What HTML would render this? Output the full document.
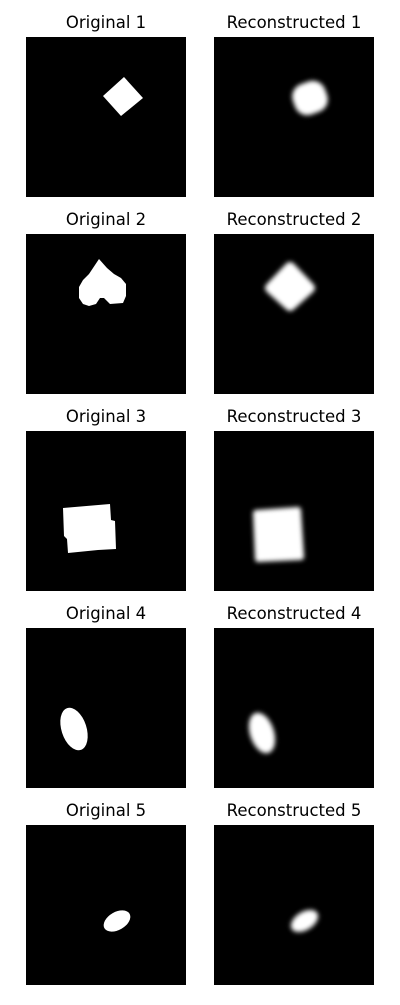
<!DOCTYPE html>
<html><head><meta charset="utf-8"><style>
body{margin:0;background:#fff;width:400px;height:1000px;overflow:hidden}
text{font-family:"DejaVu Sans","Liberation Sans",sans-serif;font-size:16.5px;fill:#000}
</style></head><body>
<svg width="400" height="1000">
<defs><filter id="bl" x="-50%" y="-50%" width="200%" height="200%"><feGaussianBlur stdDeviation="2.3"/></filter></defs>
<g transform="translate(0,37)">
<text x="106" y="-9" text-anchor="middle">Original 1</text>
<text x="294" y="-9" text-anchor="middle">Reconstructed 1</text>
<rect x="26" width="160" height="160" fill="#000"/>
<rect x="214" width="160" height="160" fill="#000"/>
<polygon points="124,40 143,61 121,79 103,59" fill="#fff"/>
<rect x="293" y="45" width="34" height="32" rx="13" transform="rotate(-20 310 61)" fill="#fff" filter="url(#bl)"/>
</g>
<g transform="translate(0,234)">
<text x="106" y="-9" text-anchor="middle">Original 2</text>
<text x="294" y="-9" text-anchor="middle">Reconstructed 2</text>
<rect x="26" width="160" height="160" fill="#000"/>
<rect x="214" width="160" height="160" fill="#000"/>
<path d="M99,25 L107,34 L114,40 L121,44 L126,50 L126,62 L123,69 L110,70 L104,64 L100,64 L96,70 L89,72 L83,70 L79,64 L79,53 L83,46 L89,40 Z" fill="#fff"/>
<polygon points="290,33 310,54 290,72 270,54" fill="#fff" stroke="#fff" stroke-width="10" stroke-linejoin="round" filter="url(#bl)"/>
</g>
<g transform="translate(0,431)">
<text x="106" y="-9" text-anchor="middle">Original 3</text>
<text x="294" y="-9" text-anchor="middle">Reconstructed 3</text>
<rect x="26" width="160" height="160" fill="#000"/>
<rect x="214" width="160" height="160" fill="#000"/>
<polygon points="63,77 110,73 111,89 115,90 116,118 98,119 68,122 67,108 64,105" fill="#fff"/>
<polygon points="256,82 298,79 301,126 258,128" fill="#fff" stroke="#fff" stroke-width="6" stroke-linejoin="round" filter="url(#bl)"/>
</g>
<g transform="translate(0,628)">
<text x="106" y="-9" text-anchor="middle">Original 4</text>
<text x="294" y="-9" text-anchor="middle">Reconstructed 4</text>
<rect x="26" width="160" height="160" fill="#000"/>
<rect x="214" width="160" height="160" fill="#000"/>
<ellipse cx="74" cy="101" rx="12.5" ry="22" transform="rotate(-18 74 101)" fill="#fff"/>
<ellipse cx="262" cy="105" rx="12" ry="21" transform="rotate(-18 262 105)" fill="#fff" filter="url(#bl)"/>
</g>
<g transform="translate(0,825)">
<text x="106" y="-9" text-anchor="middle">Original 5</text>
<text x="294" y="-9" text-anchor="middle">Reconstructed 5</text>
<rect x="26" width="160" height="160" fill="#000"/>
<rect x="214" width="160" height="160" fill="#000"/>
<ellipse cx="117" cy="96" rx="14.5" ry="9" transform="rotate(-30 117 96)" fill="#fff"/>
<ellipse cx="304.5" cy="96" rx="15" ry="9" transform="rotate(-32 304.5 96)" fill="#fff" filter="url(#bl)"/>
</g>
</svg>
</body></html>
